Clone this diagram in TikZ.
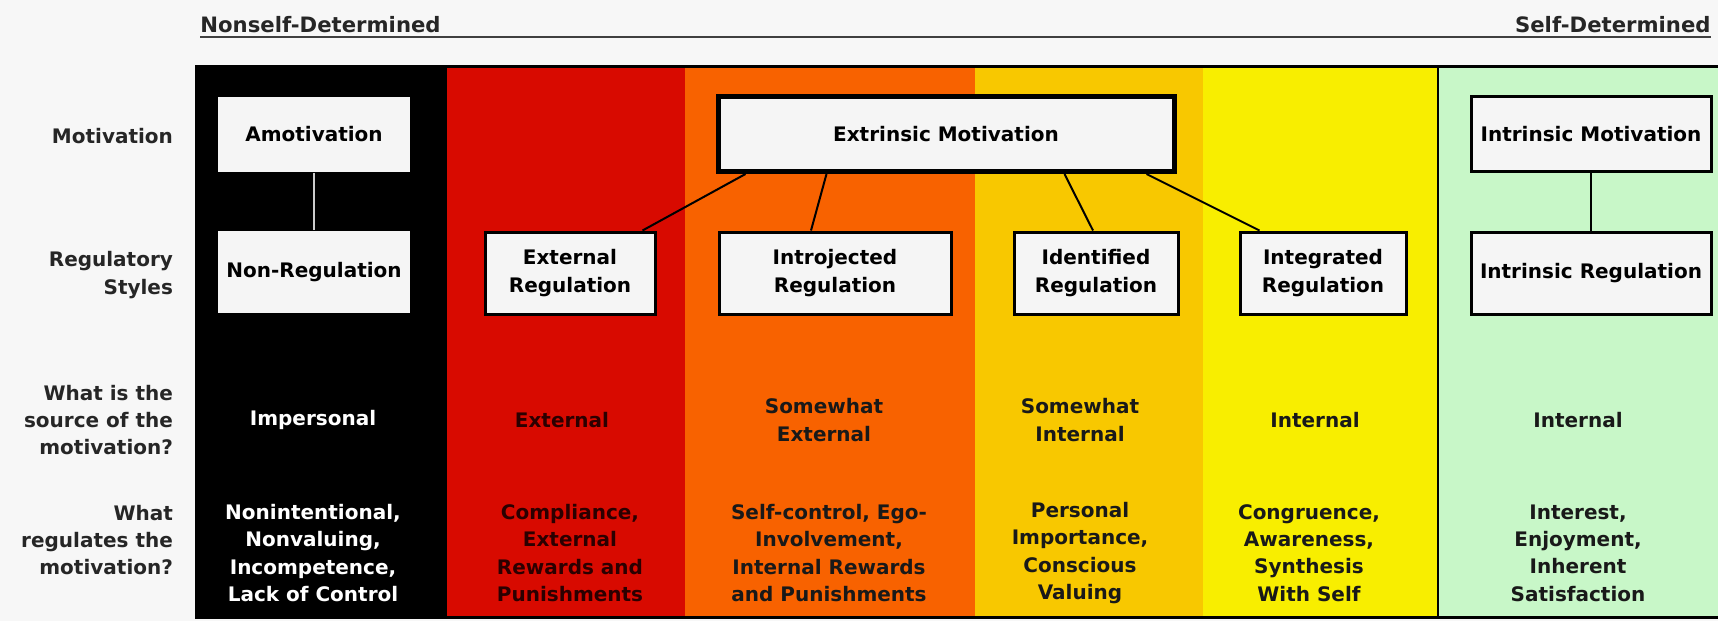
\documentclass[tikz,border=0pt]{standalone}
\usepackage{fontspec}
\setmainfont{DejaVu Sans}
\usetikzlibrary{calc}
\definecolor{pagegray}{HTML}{F7F7F7}
\definecolor{boxgray}{HTML}{F5F5F5}
\definecolor{colred}{HTML}{D80A00}
\definecolor{colorange}{HTML}{F86200}
\definecolor{colgold}{HTML}{F8C800}
\definecolor{colyellow}{HTML}{F8EE00}
\definecolor{colgreen}{HTML}{C8F7C8}
\definecolor{darkred}{HTML}{2B0000}
\tikzset{
every node/.style={font=\fontsize{10}{13.7}\selectfont\bfseries, align=center}, % bold text everywhere
motbox/.style={draw, line width=1.5pt, fill=boxgray, minimum height=37.5pt, inner sep=2pt}, % boxes of the motivation row
regbox/.style={draw, line width=1.5pt, fill=boxgray, minimum height=41pt, inner sep=2pt}, % boxes of the regulatory row
rowlabel/.style={anchor=east, align=right, text=black!85}, % labels left of the table
headlabel/.style={inner sep=0pt, text=black!85, font=\fontsize{10.6}{13}\selectfont\bfseries}, % ends of the scale
link/.style={line width=1pt}, % connectors between the boxes
}

\begin{document}
\begin{tikzpicture}[x=0.5pt, y=-0.5pt]

            \useasboundingbox (0,0) rectangle (1718,621);
            \fill[pagegray] (0,0) rectangle (1718,621);

            % header
            \node[headlabel, anchor=south west] (nsd) at (200,33) {Nonself-Determined};
            \node[headlabel, anchor=south east] (sd) at (1711,33) {Self-Determined};
            \draw[line width=1pt, black!75] (nsd.south west) ++(0,4) coordinate (hl) -- (hl -| sd.south east);

            % columns
            \fill[black] (195,66) rectangle (447,617);
            \fill[colred] (447,66) rectangle (685,617);
            \fill[colorange] (685,66) rectangle (975,617);
            \fill[colgold] (975,66) rectangle (1203,617);
            \fill[colyellow] (1203,66) rectangle (1438,617);
            \fill[colgreen] (1438,66) rectangle (1718,617);
            \draw[line width=1.5pt] (195,66) -- (1718,66);
            \draw[line width=1.5pt] (195,617) -- (1718,617);
            \draw[line width=0.8pt] (1438,66) -- (1438,617);

            % row labels
            \node[rowlabel] (lmot) at (180,136) {Motivation};
            \node[rowlabel] (lreg) at (180,275) {Regulatory\\Styles};
            \node[rowlabel] (lsrc) at (180,420) {What is the\\source of the\\motivation?};
            \node[rowlabel] (lwhat) at (180,540) {What\\regulates the\\motivation?};

            % motivation row
            \node[motbox, draw=none, minimum width=96pt] (amot) at (314,134) {Amotivation};
            \node[motbox, line width=2.5pt, minimum width=228pt] (extm) at (946,134) {Extrinsic Motivation};
            \node[motbox, minimum width=120pt] (intm) at (1591,134) {Intrinsic Motivation};

            % regulatory styles row
            \node[regbox, draw=none, minimum width=96pt] (nonreg) at (314,272) {Non-Regulation};
            \node[regbox, minimum width=85pt] (extreg) at (570,273) {External\\Regulation};
            \node[regbox, minimum width=116pt] (introreg) at (835,273) {Introjected\\Regulation};
            \node[regbox, minimum width=82pt] (identreg) at (1096,273) {Identified\\Regulation};
            \node[regbox, minimum width=83pt] (integreg) at (1323,273) {Integrated\\Regulation};
            \node[regbox, minimum width=120pt] (intreg) at (1591,273) {Intrinsic Regulation};

            % connectors
            \draw[link, black!20, line width=0.6pt] (amot) -- (nonreg);
            \draw[link, line width=0.6pt] (intm) -- (intreg);
            \draw[link] ($(extm.south west)+(30,0)$) -- ($(extreg.north east)+(-14,0)$);
            \draw[link] ($(extm.south west)+(111,0)$) -- ($(introreg.north)+(-24,0)$);
            \draw[link] ($(extm.south east)+(-112,0)$) -- ($(identreg.north)+(-3,0)$);
            \draw[link] ($(extm.south east)+(-30,0)$) -- ($(integreg.north west)+(21,0)$);

            % source row
            \node[text=white] (s1) at (313,420) {Impersonal};
            \node[text=darkred] (s2) at (562,420) {External};
            \node[text=black!90] (s3) at (824,420) {Somewhat\\External};
            \node[text=black!90] (s4) at (1080,420) {Somewhat\\Internal};
            \node[text=black!90] (s5) at (1315,420) {Internal};
            \node[text=black!90] (s6) at (1578,420) {Internal};

            % what regulates row
            \node[text=white] (r1) at (313,553) {Nonintentional,\\Nonvaluing,\\Incompetence,\\Lack of Control};
            \node[text=darkred] (r2) at (570,553) {Compliance,\\External\\Rewards and\\Punishments};
            \node[text=black!90] (r3) at (829,553) {Self-control, Ego-\\Involvement,\\Internal Rewards\\and Punishments};
            \node[text=black!90] (r4) at (1080,553) {Personal\\Importance,\\Conscious\\Valuing};
            \node[text=black!90] (r5) at (1309,553) {Congruence,\\Awareness,\\Synthesis\\With Self};
            \node[text=black!90] (r6) at (1578,553) {Interest,\\Enjoyment,\\Inherent\\Satisfaction};

\end{tikzpicture}
\end{document}
